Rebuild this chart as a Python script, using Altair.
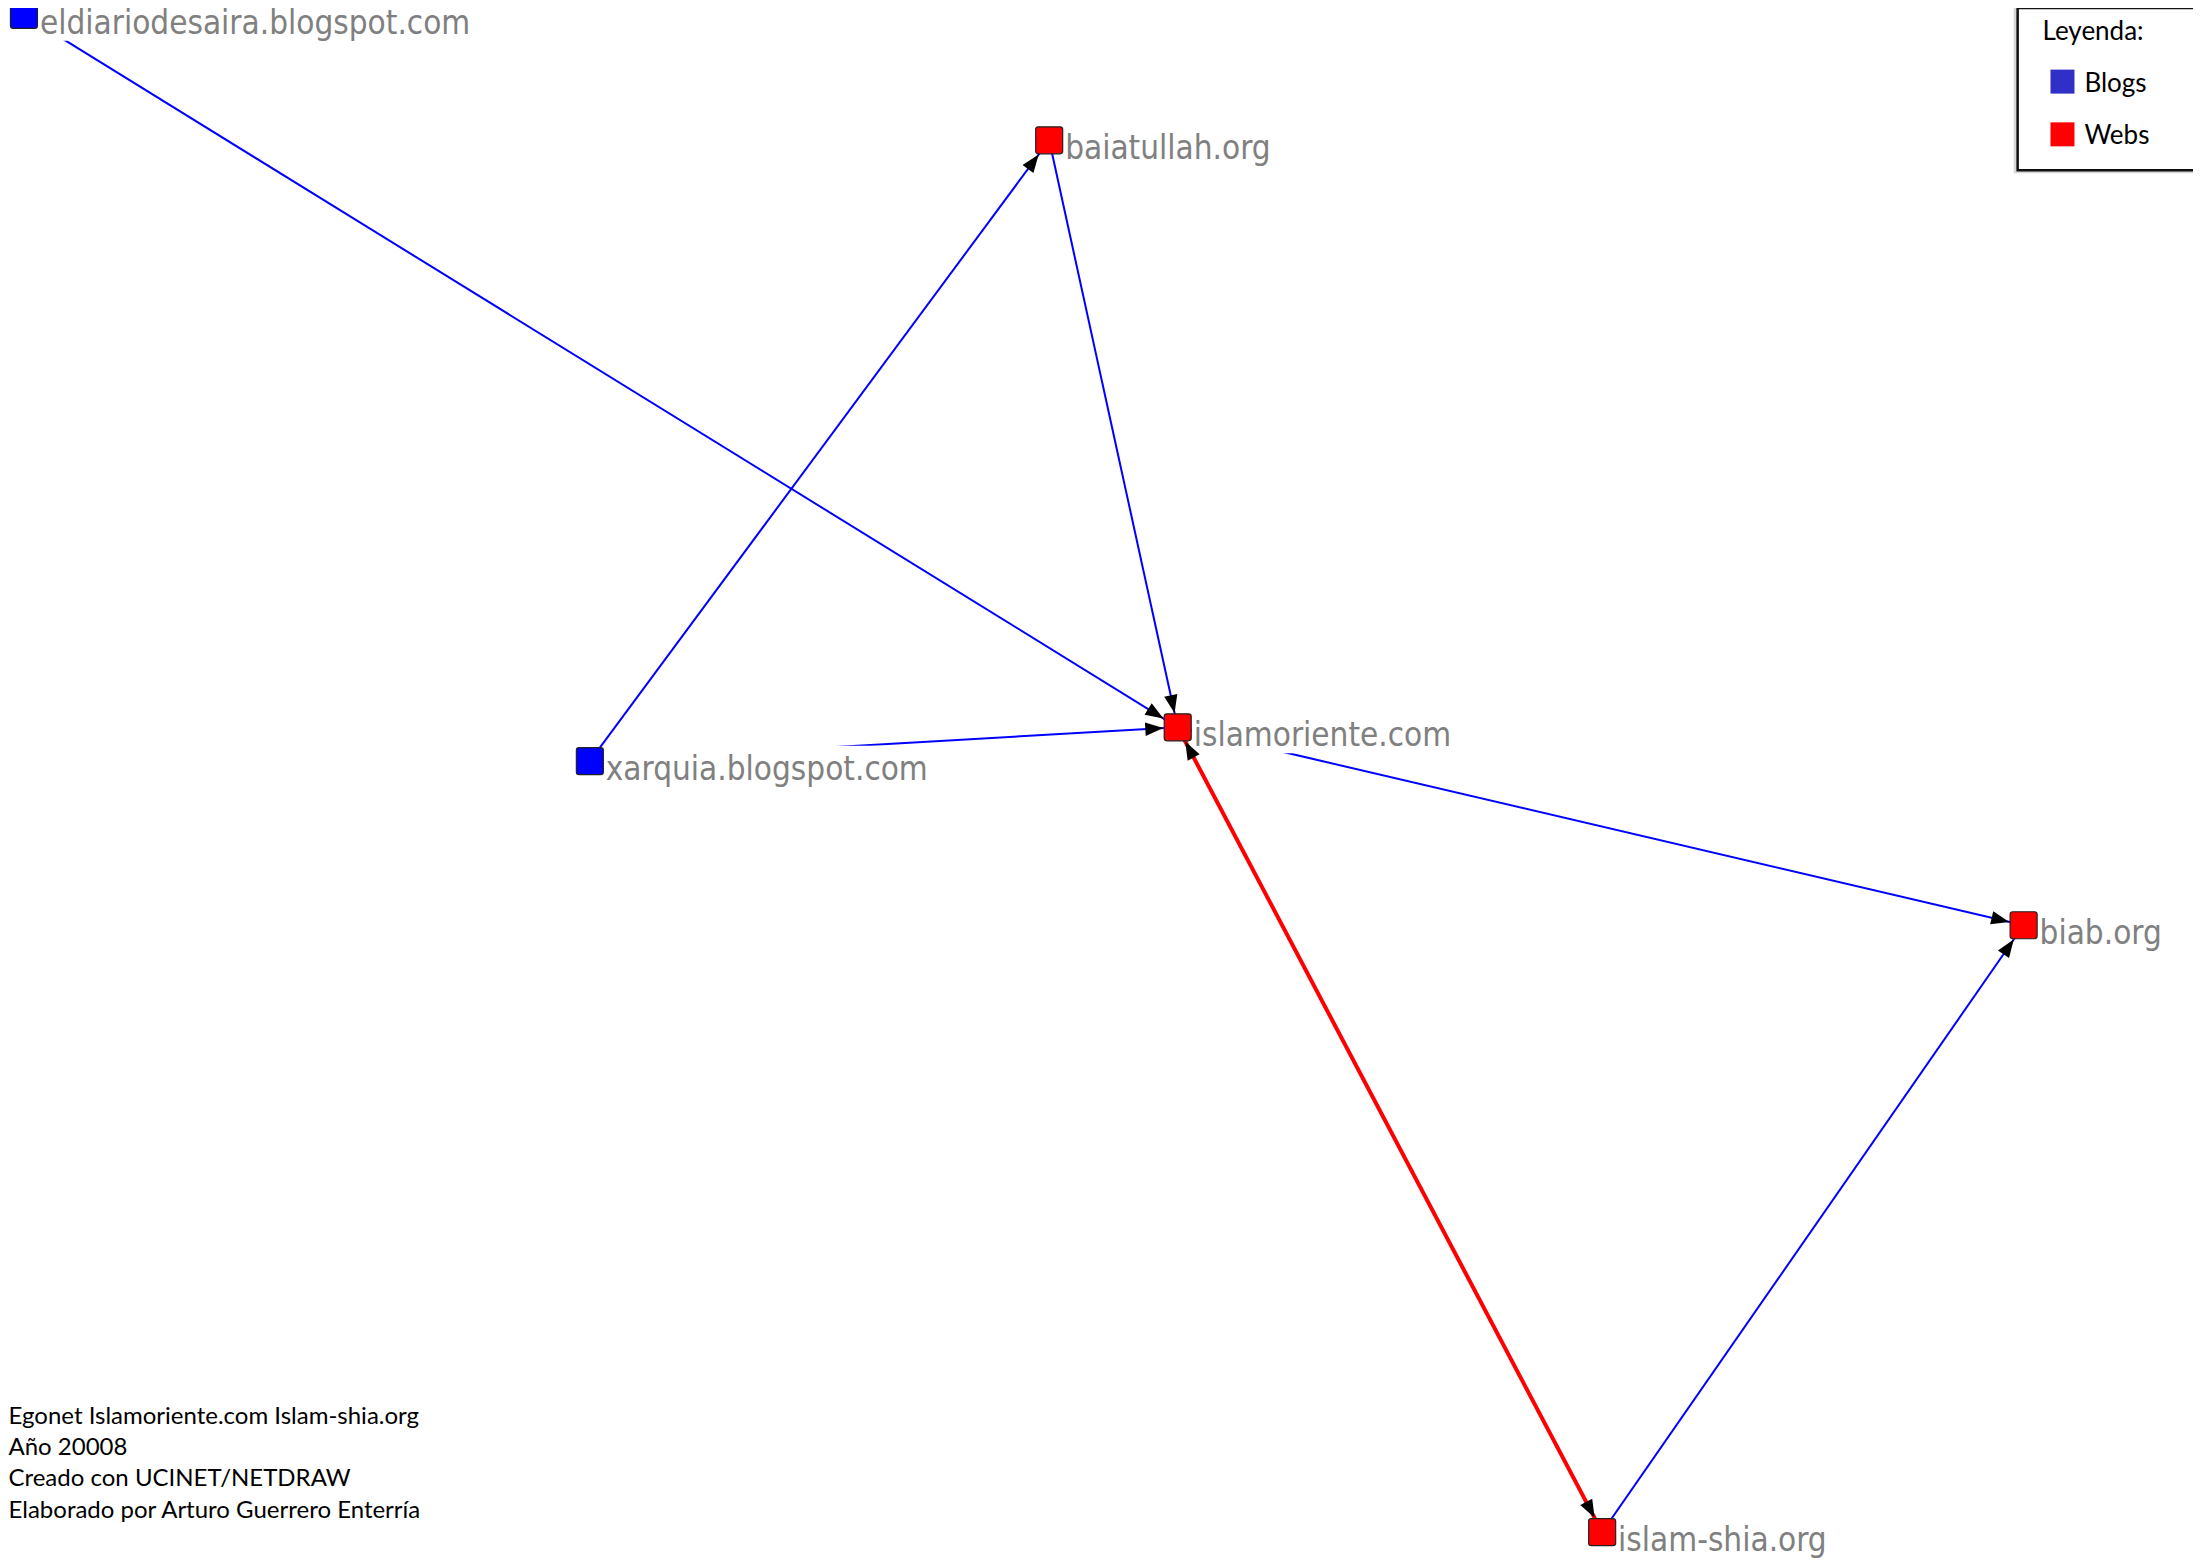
import math
import altair as alt
import pandas as pd

# ---- data -------------------------------------------------------------
node_names = ["eldiariodesaira.blogspot.com", "baiatullah.org", "islamoriente.com",
              "xarquia.blogspot.com", "biab.org", "islam-shia.org"]
node_kind = ["Blogs", "Webs", "Webs", "Blogs", "Webs", "Webs"]
node_x = [20, 1049, 1178, 588, 2027, 1604]
node_y = [11, 137, 727, 761, 926, 1536]

edge_source = ["eldiariodesaira.blogspot.com", "xarquia.blogspot.com", "baiatullah.org",
               "xarquia.blogspot.com", "islamoriente.com", "islam-shia.org", "islamoriente.com"]
edge_target = ["islamoriente.com", "baiatullah.org", "islamoriente.com",
               "islamoriente.com", "biab.org", "biab.org", "islam-shia.org"]
edge_mutual = [False, False, False, False, False, False, True]

legend_items = ["Blogs", "Webs"]
legend_colors = ["#3030c8", "#ff0000"]
legend_title = "Leyenda:"

footer_lines = ["Egonet Islamoriente.com Islam-shia.org", "Año 20008",
                "Creado con UCINET/NETDRAW", "Elaborado por Arturo Guerrero Enterría"]

# ---- derived tables -----------------------------------------------------
pos = {n: (x, y) for n, x, y in zip(node_names, node_x, node_y)}
nodes = pd.DataFrame({"name": node_names, "kind": node_kind, "x": node_x, "y": node_y})

HALF = 13.5
edges_rows, arrow_rows = [], []
for s, t, m in zip(edge_source, edge_target, edge_mutual):
    (sx, sy), (tx, ty) = pos[s], pos[t]
    edges_rows.append({"x": sx, "y": sy, "x2": tx, "y2": ty, "mutual": "mutual" if m else "single"})
    ends = [((sx, sy), (tx, ty))]
    if m:
        ends.append(((tx, ty), (sx, sy)))
    for (ax, ay), (bx, by) in ends:
        dx, dy = bx - ax, by - ay
        L = math.hypot(dx, dy)
        ux, uy = dx / L, dy / L
        tb = HALF / max(abs(ux), abs(uy)) + 1
        back = tb + 9
        arrow_rows.append({"x": bx - ux * back, "y": by - uy * back,
                           "angle": math.degrees(math.atan2(dx, -dy)) % 360})
edges = pd.DataFrame(edges_rows)
arrows = pd.DataFrame(arrow_rows)

footer = pd.DataFrame({"text": footer_lines, "i": list(range(len(footer_lines)))})
legend = pd.DataFrame({"cat": legend_items, "color": legend_colors, "i": [0, 1]})

# ---- scales -------------------------------------------------------------
W, H = 2185, 1550
xs = alt.Scale(domain=[4, 2197], nice=False, zero=False)
ys = alt.Scale(domain=[4, 1562], nice=False, zero=False, reverse=True)
X = lambda f: alt.X(f, scale=xs, axis=None)
Y = lambda f: alt.Y(f, scale=ys, axis=None)

LABEL_FONT = "DejaVu Sans Condensed"
LABEL_SIZE = 33
CALIBRI = "Lato"

lines = alt.Chart(edges).mark_rule().encode(
    x=X("x:Q"), y=Y("y:Q"), x2="x2:Q", y2="y2:Q",
    color=alt.Color("mutual:N", scale=alt.Scale(domain=["single", "mutual"], range=["#0000ff", "#ff0000"]), legend=None),
    strokeWidth=alt.StrokeWidth("mutual:N", scale=alt.Scale(domain=["single", "mutual"], range=[2, 4]), legend=None),
)

boxes = alt.Chart(nodes).transform_calculate(
    bx="datum.x + 14", bx2="datum.x + 18 + length(datum.name) * 15.8",
    by="datum.y - 15.5", by2="datum.y + 26",
).mark_rect(color="white").encode(x=X("bx:Q"), x2="bx2:Q", y=Y("by:Q"), y2="by2:Q")

labels = alt.Chart(nodes).transform_calculate(
    lx="datum.x + 16", ly="datum.y + 19"
).mark_text(align="left", baseline="alphabetic", font=LABEL_FONT, fontSize=LABEL_SIZE, color="#808080").encode(
    x=X("lx:Q"), y=Y("ly:Q"), text="name:N")

arrow_shape = "M0,-1L0.75,1L-0.75,1Z"
arrowheads = alt.Chart(arrows).mark_point(shape=arrow_shape, filled=True, color="black", opacity=1, size=324).encode(
    x=X("x:Q"), y=Y("y:Q"), angle=alt.Angle("angle:Q", scale=None))

rounded = ("M-0.8,-1L0.8,-1Q1,-1 1,-0.8L1,0.8Q1,1 0.8,1L-0.8,1Q-1,1 -1,0.8L-1,-0.8Q-1,-1 -0.8,-1Z")
node_marks = alt.Chart(nodes).mark_point(shape=rounded, filled=True, opacity=1, size=729,
                                         stroke="#222222", strokeWidth=1.2).encode(
    x=X("x:Q"), y=Y("y:Q"),
    fill=alt.Fill("kind:N", scale=alt.Scale(domain=["Blogs", "Webs"], range=["#0000ff", "#ff0000"]), legend=None))

footer_text = alt.Chart(footer).transform_calculate(fx="4.5", fy="1427 + 31.5 * datum.i").mark_text(
    align="left", baseline="alphabetic", font=CALIBRI, fontSize=24, color="black").encode(
    x=X("fx:Q"), y=Y("fy:Q"), text="text:N")

# legend (drawn in reference-pixel coordinates through the same scales)
leg_frame = pd.DataFrame({"x": [2021], "x2": [2260], "y": [4], "y2": [167]})
leg_shadow = alt.Chart(leg_frame).transform_calculate(sx="datum.x - 4", sy2="datum.y2 + 3").mark_rect(
    color="#d8d8d8").encode(x=X("sx:Q"), x2="x2:Q", y=Y("y:Q"), y2="sy2:Q")
leg_box = alt.Chart(leg_frame).mark_rect(fill="white", stroke="#111111", strokeWidth=2.5).encode(
    x=X("x:Q"), x2="x2:Q", y=Y("y:Q"), y2="y2:Q")
leg_title = alt.Chart(pd.DataFrame({"t": [legend_title]})).transform_calculate(
    tx="2046", ty="36").mark_text(align="left", baseline="alphabetic", font=CALIBRI, fontSize=26, color="black").encode(
    x=X("tx:Q"), y=Y("ty:Q"), text="t:N")
leg_sym = alt.Chart(legend).transform_calculate(sx="2066", sy="78 + 53 * datum.i").mark_square(
    size=576, opacity=1).encode(
    x=X("sx:Q"), y=Y("sy:Q"), color=alt.Color("color:N", scale=None))
leg_txt = alt.Chart(legend).transform_calculate(sx="2088", sy="88 + 53 * datum.i").mark_text(
    align="left", baseline="alphabetic", font=CALIBRI, fontSize=26, color="black").encode(
    x=X("sx:Q"), y=Y("sy:Q"), text="cat:N")

chart = alt.layer(lines, boxes, labels, arrowheads, node_marks, footer_text,
                  leg_shadow, leg_box, leg_title, leg_sym, leg_txt).resolve_scale(
    color="independent").properties(
    width=W, height=H, padding=0, autosize="none", background="white"
).configure_view(stroke=None)

chart.save("out.html", embed_options={"renderer": "svg", "actions": False})
